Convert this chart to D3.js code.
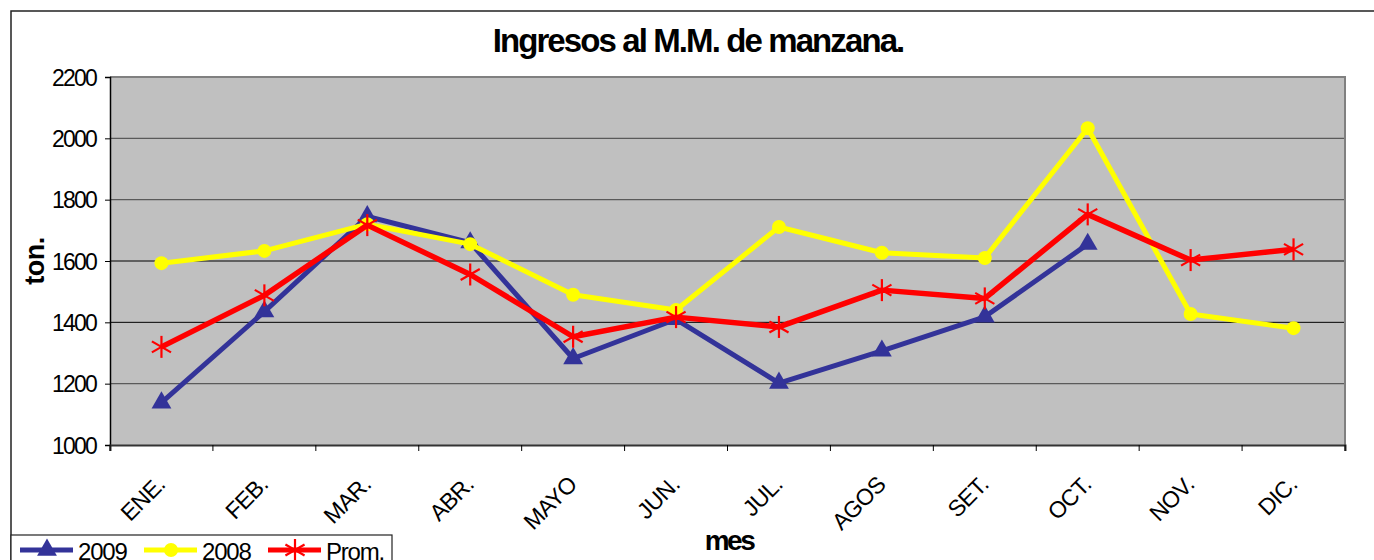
<!DOCTYPE html>
<html><head><meta charset="utf-8">
<script src="https://cdn.jsdelivr.net/npm/d3@7"></script>
<style>html,body{margin:0;padding:0;background:#fff;}svg{display:block;}</style>
</head><body>
<svg id="c" width="1374" height="560"></svg>
<script>
const months = ["ENE.","FEB.","MAR.","ABR.","MAYO","JUN.","JUL.","AGOS","SET.","OCT.","NOV.","DIC."];
const yTicks = [1000,1200,1400,1600,1800,2000,2200];
const s2009 = [1138,1435,1745,1660,1282,1410,1202,1307,1418,1655,null,null];
const s2008 = [1593,1633,1720,1655,1490,1440,1711,1627,1610,2033,1427,1381];
const sProm = [1320,1488,1717,1556,1353,1417,1385,1505,1478,1752,1603,1638];
const seriesNames = ["2009","2008","Prom."];

const FONT = "Liberation Sans, Arial, sans-serif";
const svg = d3.select("#c");
const L=110, R=1345, T=77, B=445;
const x = d3.scaleBand().domain(months).range([L,R]);
const y = d3.scaleLinear().domain([1000,2200]).range([B,T]);

// chart border
svg.append("rect").attr("x",11).attr("y",11).attr("width",1380).attr("height",600)
  .attr("fill","#fff").attr("stroke","#222").attr("stroke-width",1.5);

// plot area
svg.append("rect").attr("x",L).attr("y",T).attr("width",R-L).attr("height",B-T).attr("fill","#c0c0c0");
// gridlines
svg.append("g").selectAll("line").data(yTicks.filter(d=>d>1000&&d<2200)).join("line")
  .attr("x1",L).attr("x2",R).attr("y1",d=>y(d)).attr("y2",d=>y(d))
  .attr("stroke",d=>(d===1400||d===1600)?"#000":"#5a5a5a").attr("stroke-width",d=>(d===1400||d===1600)?1:1.4);
// plot border top/right
svg.append("path").attr("d",`M${L},${T}H${R}V${B}`).attr("fill","none").attr("stroke","#808080").attr("stroke-width",2);

// y axis
const ya = svg.append("g").attr("transform",`translate(${L},0)`)
  .call(d3.axisLeft(y).tickValues(yTicks).tickSize(5).tickPadding(0).tickFormat(d3.format("d")));
ya.select(".domain").attr("stroke","#000").attr("stroke-width",1.5);
ya.selectAll(".tick line").attr("stroke","#000");
ya.selectAll("text").attr("x",-14).attr("dy","0.36em").attr("font-family",FONT).attr("font-size",23)
  .attr("letter-spacing","-1.8px").attr("fill","#000");

// x axis
const xa = svg.append("g").attr("transform",`translate(0,${B})`)
  .call(d3.axisBottom(x).tickSize(6).tickPadding(0).tickFormat(""));
xa.select(".domain").attr("stroke","#333").attr("stroke-width",2);
xa.selectAll(".tick line").attr("stroke","#000").attr("transform",d=>`translate(${-x.bandwidth()/2},0)`);
svg.append("line").attr("x1",R).attr("x2",R).attr("y1",B).attr("y2",B+6).attr("stroke","#000");
svg.append("g").selectAll("text").data(months).join("text")
  .attr("transform",d=>`translate(${x(d)+x.bandwidth()/2+5},${B+41}) rotate(-45)`)
  .attr("text-anchor","end")
  .attr("font-family",FONT).attr("font-size",23).attr("letter-spacing","-0.6px")
  .text(d=>d);

// titles
svg.append("text").attr("x",698).attr("y",52).attr("text-anchor","middle")
  .attr("font-family",FONT).attr("font-weight","bold").attr("font-size",33)
  .attr("letter-spacing","-1.9px").text("Ingresos al M.M. de manzana.");
svg.append("text").attr("transform","translate(44,261) rotate(-90)").attr("text-anchor","middle")
  .attr("font-family",FONT).attr("font-weight","bold").attr("font-size",27)
  .attr("letter-spacing","-0.5px").text("ton.");
svg.append("text").attr("x",729).attr("y",550).attr("text-anchor","middle")
  .attr("font-family",FONT).attr("font-weight","bold").attr("font-size",28)
  .attr("letter-spacing","-2.5px").text("mes");

const colors = ["#333399","#ffff00","#ff0000"];
const data = [s2009,s2008,sProm];
const cx = i => x(months[i])+x.bandwidth()/2;
const line = d3.line().defined(d=>d[1]!=null).x(d=>cx(d[0])).y(d=>y(d[1]));

function marker(g, kind, color, px, py){
  if(kind===0){
    g.append("path").attr("d",d3.symbol(d3.symbolTriangle,170)()).attr("transform",`translate(${px},${py})`).attr("fill",color);
  } else if(kind===1){
    g.append("circle").attr("cx",px).attr("cy",py).attr("r",7).attr("fill",color);
  } else {
    const r=11;
    [[0,-r,0,r],[-r*0.87,-r*0.5,r*0.87,r*0.5],[-r*0.87,r*0.5,r*0.87,-r*0.5]].forEach(a=>{
      g.append("line").attr("x1",px+a[0]).attr("y1",py+a[1]).attr("x2",px+a[2]).attr("y2",py+a[3])
        .attr("stroke",color).attr("stroke-width",2.2);
    });
  }
}

data.forEach((s,k)=>{
  const g = svg.append("g");
  const pts = s.map((v,i)=>[i,v]);
  g.append("path").datum(pts).attr("d",line).attr("fill","none").attr("stroke",colors[k])
    .attr("stroke-width",k===2?5.5:5).attr("stroke-linejoin","round");
  pts.filter(p=>p[1]!=null).forEach(p=>marker(g,k,colors[k],cx(p[0]),y(p[1])));
});

// legend
const lg = svg.append("g");
lg.append("rect").attr("x",11).attr("y",535).attr("width",381).attr("height",40).attr("fill","#fff").attr("stroke","#222").attr("stroke-width",1.2);
const lx = [20,144,268];
seriesNames.forEach((n,k)=>{
  lg.append("line").attr("x1",lx[k]).attr("x2",lx[k]+53).attr("y1",550).attr("y2",550).attr("stroke",colors[k]).attr("stroke-width",5);
  marker(lg,k,colors[k],lx[k]+27,550);
  lg.append("text").attr("x",lx[k]+58).attr("y",560).attr("font-family",FONT)
    .attr("font-size",24).attr("letter-spacing","-1.2px").text(n);
});
</script>
</body></html>
